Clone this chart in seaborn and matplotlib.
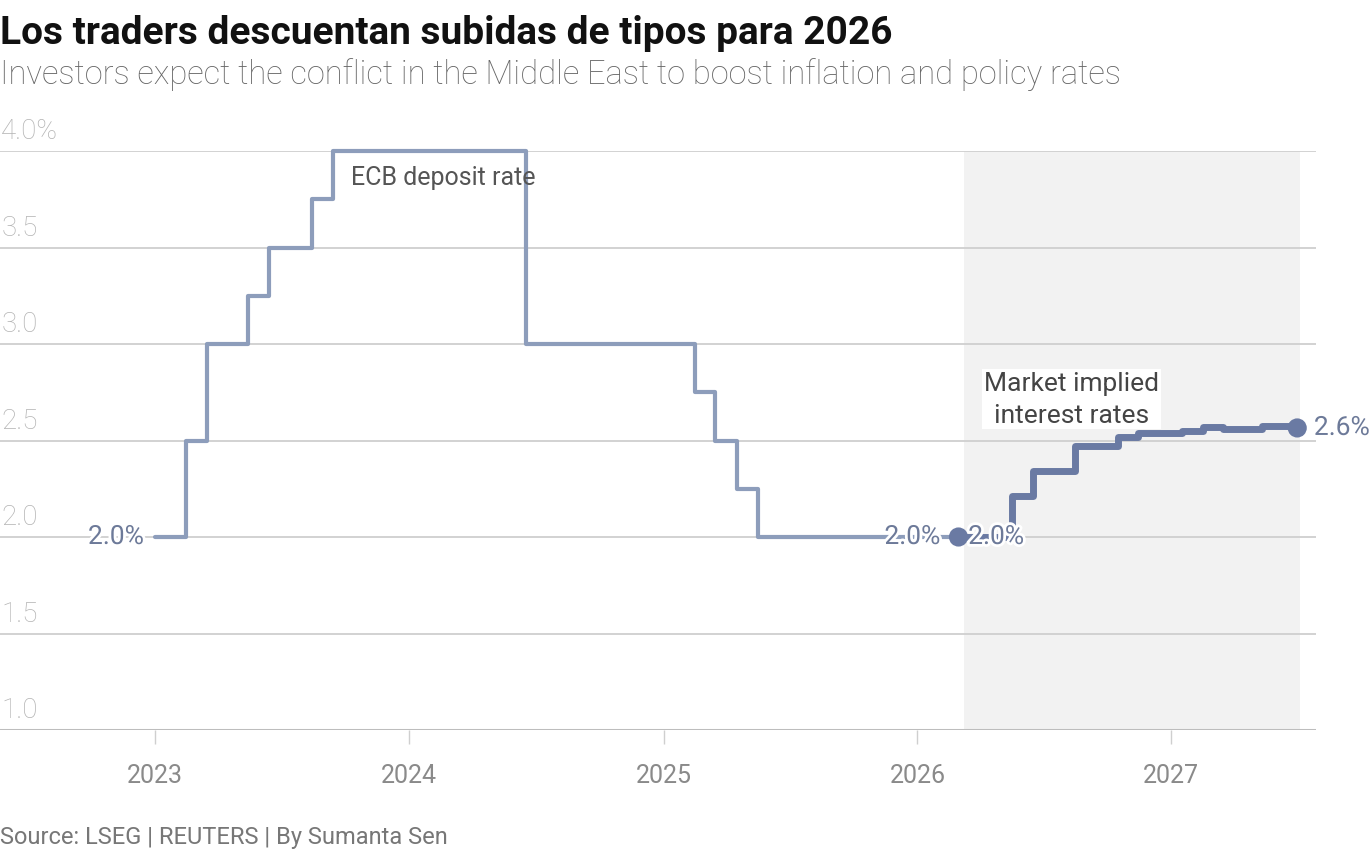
import matplotlib
matplotlib.use("Agg")
import matplotlib.pyplot as plt
import matplotlib.patheffects as pe
import seaborn as sns
import pandas as pd

# ---- data ----
ecb_dates = ["2023-01-01", "2023-02-14", "2023-03-16", "2023-05-14", "2023-06-14",
             "2023-08-15", "2023-09-14", "2024-06-17", "2025-02-15", "2025-03-16",
             "2025-04-16", "2025-05-17", "2026-03-01"]
ecb_rates = [2.0, 2.5, 3.0, 3.25, 3.5, 3.75, 4.0, 3.0, 2.75, 2.5, 2.25, 2.0, 2.0]

mkt_dates = ["2026-03-01", "2026-05-17", "2026-06-16", "2026-08-15", "2026-10-16",
             "2026-11-14", "2027-01-16", "2027-02-15", "2027-03-16", "2027-05-12",
             "2027-07-01"]
mkt_rates = [2.0, 2.21, 2.34, 2.47, 2.52, 2.54, 2.55, 2.57, 2.56, 2.575, 2.565]

y_ticks = [1.0, 1.5, 2.0, 2.5, 3.0, 3.5, 4.0]
y_tick_labels = ["1.0", "1.5", "2.0", "2.5", "3.0", "3.5", "4.0%"]
x_tick_years = ["2023", "2024", "2025", "2026", "2027"]
forecast_span = ["2026-03-09", "2027-07-05"]

title = "Los traders descuentan subidas de tipos para 2026"
subtitle = "Investors expect the conflict in the Middle East to boost inflation and policy rates"
source = "Source: LSEG | REUTERS | By Sumanta Sen"

ecb = pd.DataFrame({"date": pd.to_datetime(ecb_dates), "rate": ecb_rates})
mkt = pd.DataFrame({"date": pd.to_datetime(mkt_dates), "rate": mkt_rates})

# ---- style ----
sns.set_theme(style="white")
plt.rcParams["font.family"] = ["Roboto", "DejaVu Sans"]

W, H = 1371, 854
fig = plt.figure(figsize=(W / 100, H / 100), dpi=100)
ax = fig.add_axes([0 / W, 1 - 731 / H, 1316 / W, (731 - 152) / H])

ecb_col = "#8d9dbb"
mkt_col = "#6a7aa3"
lab_col = "#6d7a99"

ax.axvspan(pd.Timestamp(forecast_span[0]), pd.Timestamp(forecast_span[1]),
           color="#f2f2f2", zorder=0, lw=0)

for v in y_ticks[1:]:
    ax.axhline(v, color="#d2d2d2", lw=1.4, zorder=1)
ax.axhline(1.0, color="#bdbdbd", lw=2.2, zorder=1)

sns.lineplot(data=ecb, x="date", y="rate", ax=ax, drawstyle="steps-post",
             color=ecb_col, lw=3.0, estimator=None, zorder=3, clip_on=False)
sns.lineplot(data=mkt, x="date", y="rate", ax=ax, drawstyle="steps-post",
             color=mkt_col, lw=5.0, estimator=None, zorder=4, clip_on=False)

ends = pd.DataFrame({"date": [ecb["date"].iloc[-1], mkt["date"].iloc[-1]],
                     "rate": [ecb["rate"].iloc[-1], mkt["rate"].iloc[-1]]})
sns.scatterplot(data=ends, x="date", y="rate", ax=ax, color=mkt_col, s=190,
                edgecolor="none", zorder=5, clip_on=False)

ax.set_xlim(pd.Timestamp("2022-05-23"), pd.Timestamp("2027-07-28"))
ax.set_ylim(1.0, 4.0)
ax.set_xlabel("")
ax.set_ylabel("")
ax.set_yticks([])
for s in ax.spines.values():
    s.set_visible(False)

ax.set_xticks([pd.Timestamp(y + "-01-01") for y in x_tick_years])
ax.set_xticklabels(x_tick_years, fontsize=18, color="#8a8a8a")
ax.tick_params(axis="x", length=10, width=1, color="#cfcfcf", pad=14, bottom=True)

for v, lab in zip(y_ticks, y_tick_labels):
    ax.text(0.001, v + 0.035, lab, transform=ax.get_yaxis_transform(),
            ha="left", va="bottom", fontsize=20, color="#b3b3b3", fontweight="light")

halo = [pe.withStroke(linewidth=4, foreground="white")]
fs_lab = 19
ax.annotate("2.0%", (ecb["date"].iloc[0], 2.0), xytext=(-8, 0), textcoords="offset points",
            ha="right", va="center", fontsize=fs_lab, color=lab_col, path_effects=halo, zorder=6)
ax.annotate("2.0%", (ecb["date"].iloc[-1], 2.0), xytext=(-13, 0), textcoords="offset points",
            ha="right", va="center", fontsize=fs_lab, color=lab_col, path_effects=halo, zorder=6)
ax.annotate("2.0%", (mkt["date"].iloc[0], 2.0), xytext=(7, 0), textcoords="offset points",
            ha="left", va="center", fontsize=fs_lab, color=lab_col, path_effects=halo, zorder=6)
ax.annotate("2.6%", (mkt["date"].iloc[-1], mkt["rate"].iloc[-1]), xytext=(12, 0),
            textcoords="offset points", ha="left", va="center", fontsize=fs_lab,
            color=lab_col, path_effects=halo, zorder=6, annotation_clip=False)

ax.text(pd.Timestamp("2023-10-09"), 3.865, "ECB deposit rate", ha="left", va="center",
        fontsize=18, color="#555555", zorder=6)
ax.text(pd.Timestamp("2026-08-10"), 2.715, "Market implied\ninterest rates", ha="center",
        va="center", fontsize=19, color="#444444", linespacing=1.45, zorder=6,
        bbox=dict(facecolor="white", edgecolor="none", pad=1.5))

fig.text(0, 1 - 33 / H, title, ha="left", va="center", fontsize=28,
         fontweight="bold", color="#111111")
fig.text(0, 1 - 75 / H, subtitle, ha="left", va="center", fontsize=23.5,
         fontweight="light", color="#666666")
fig.text(0, 1 - 838 / H, source, ha="left", va="center", fontsize=17, color="#777777")

fig.savefig("out.png", dpi=100)
